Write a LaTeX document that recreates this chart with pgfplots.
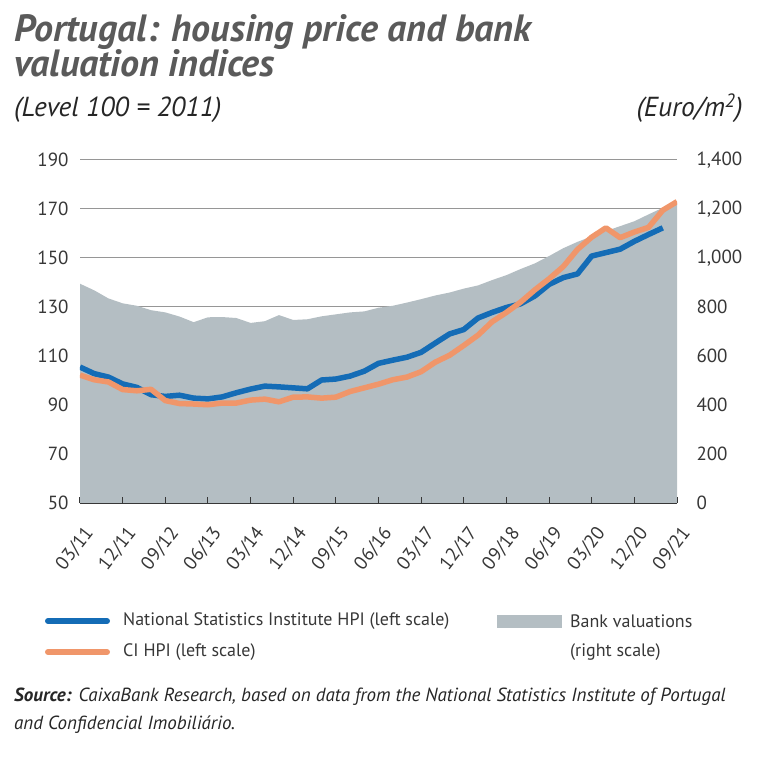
\documentclass[border=0pt]{standalone}
\usepackage{fontspec}
\setmainfont{PT Sans}
\usepackage{pgfplots}
\usepackage{pgfplotstable}
\pgfplotsset{compat=1.18}
\definecolor{hpiblue}{RGB}{20,108,182}
\definecolor{ciorange}{RGB}{240,150,106}
\definecolor{bankgray}{RGB}{180,190,195}
\definecolor{gridgray}{RGB}{150,150,150}
\definecolor{titlegray}{RGB}{90,90,90}
\definecolor{txt}{RGB}{55,55,55}

\pgfplotstableread{
i  ine    ci     bank
0  105.5  102.2  895
1  102.8  100.3  868
2  101.4  99.4   835
3  98.6   96.3   815
4  97.2   95.8   805
5  94.2   96.4   787
6  93.5   91.8   778
7  94.0   90.6   761
8  92.8   90.4   738
9  92.5   90.1   758
10 93.3   90.8   759
11 95.0   90.8   755
12 96.5   92.0   735
13 97.7   92.4   742
14 97.4   91.3   767
15 97.0   93.2   747
16 96.6   93.3   750
17 100.2  92.8   762
18 100.6  93.2   770
19 101.8  95.5   778
20 103.8  97.0   782
21 107.0  98.5   797
22 108.3  100.3  805
23 109.5  101.4  818
24 111.5  103.6  832
25 115.3  107.5  847
26 119.0  110.3  859
27 120.8  114.3  875
28 125.5  118.5  888
29 127.8  124.0  910
30 129.8  127.8  930
31 131.3  132.0  955
32 134.5  137.0  978
33 139.2  141.5  1008
34 142.0  146.5  1040
35 143.5  153.5  1066
36 150.8  158.5  1088
37 152.2  162.3  1110
38 153.6  158.3  1130
39 156.8  160.6  1150
40 159.6  162.5  1178
41 162.3  169.5  1205
42 nan    173.0  1225
}\datatable

\begin{document}
\begin{tikzpicture}[x=1pt,y=1pt]
\useasboundingbox (0,0) rectangle (768,756);
% right axis with bank valuations
\begin{axis}[
  at={(80pt,253pt)}, anchor=south west,
  width=597pt, height=343pt, scale only axis,
  xmin=0, xmax=42, ymin=0, ymax=1400,
  axis x line=none,
  axis y line*=right,
  y axis line style={draw=none},
  ytick={0,200,...,1400},
  ymajorgrids,
  grid style={gridgray, line width=1pt},
  major tick length=0pt,
  yticklabel style={font=\fontsize{19}{21}\selectfont, text=txt, xshift=16pt},
  /pgf/number format/.cd, 1000 sep={,}, assume math mode=true,
]
\addplot[fill=bankgray, draw=none] table[x=i, y=bank] {\datatable} \closedcycle;
\end{axis}
% left axis with indices
\begin{axis}[
  at={(80pt,253pt)}, anchor=south west,
  width=597pt, height=343pt, scale only axis,
  xmin=0, xmax=42, ymin=50, ymax=190,
  axis x line*=bottom,
  axis y line*=left,
  y axis line style={draw=none},
  x axis line style={draw=txt, line width=1pt, -},
  ytick={50,70,...,190},
  xtick={0,3,...,42},
  xticklabels={03/11,12/11,09/12,06/13,03/14,12/14,09/15,06/16,03/17,12/17,09/18,06/19,03/20,12/20,09/21},
  tick align=inside,
  xtick style={draw=txt, line width=1pt},
  ytick style={draw=none},
  major tick length=6pt,
  yticklabel shift=8pt,
  yticklabel style={font=\fontsize{19}{21}\selectfont, text=txt},
  xticklabel style={font=\fontsize{19}{21}\selectfont, text=txt, xshift=12pt, yshift=-24pt, rotate=52, anchor=east},
  /pgf/number format/assume math mode=true,
]
\addplot[hpiblue, line width=5.5pt, line join=round] table[x=i, y=ine] {\datatable};
\addplot[ciorange, line width=5.5pt, line join=round] table[x=i, y=ci] {\datatable};
\end{axis}
% titles
\node[anchor=base west, text=titlegray, inner sep=0pt] at (14,714) {\fontsize{38}{42}\selectfont\bfseries\itshape Portugal: housing price and bank};
\node[anchor=base west, text=titlegray, inner sep=0pt] at (14,679) {\fontsize{38}{42}\selectfont\bfseries\itshape valuation indices};
\node[anchor=base west, text=black!85, inner sep=0pt] at (14,639) {\fontsize{27.5}{30}\selectfont\itshape (Level 100 = 2011)};
\node[anchor=base east, text=black!85, inner sep=0pt] at (743,639) {\fontsize{27.5}{30}\selectfont\itshape (Euro/m\textsuperscript{2})};
% legend
\draw[hpiblue, line width=6pt, line cap=round] (48,135) -- (107,135);
\node[anchor=west, text=txt, inner sep=0pt] at (123,135) {\fontsize{18}{20}\selectfont National Statistics Institute HPI (left scale)};
\draw[ciorange, line width=6pt, line cap=round] (48,104) -- (107,104);
\node[anchor=west, text=txt, inner sep=0pt] at (123,104) {\fontsize{18}{20}\selectfont CI HPI (left scale)};
\fill[bankgray] (497,128) rectangle (562,141);
\node[anchor=west, text=txt, inner sep=0pt] at (570,135) {\fontsize{18}{20}\selectfont Bank valuations};
\node[anchor=west, text=txt, inner sep=0pt] at (570,104) {\fontsize{18}{20}\selectfont (right scale)};
% source
\node[anchor=base west, text=black!85, inner sep=0pt] at (14,55) {\fontsize{19}{22}\selectfont\textbf{\textit{Source:}} \textit{CaixaBank Research, based on data from the National Statistics Institute of Portugal}};
\node[anchor=base west, text=black!85, inner sep=0pt] at (14,27) {\fontsize{19}{22}\selectfont\itshape and Confidencial Imobiliário.};
\end{tikzpicture}
\end{document}
